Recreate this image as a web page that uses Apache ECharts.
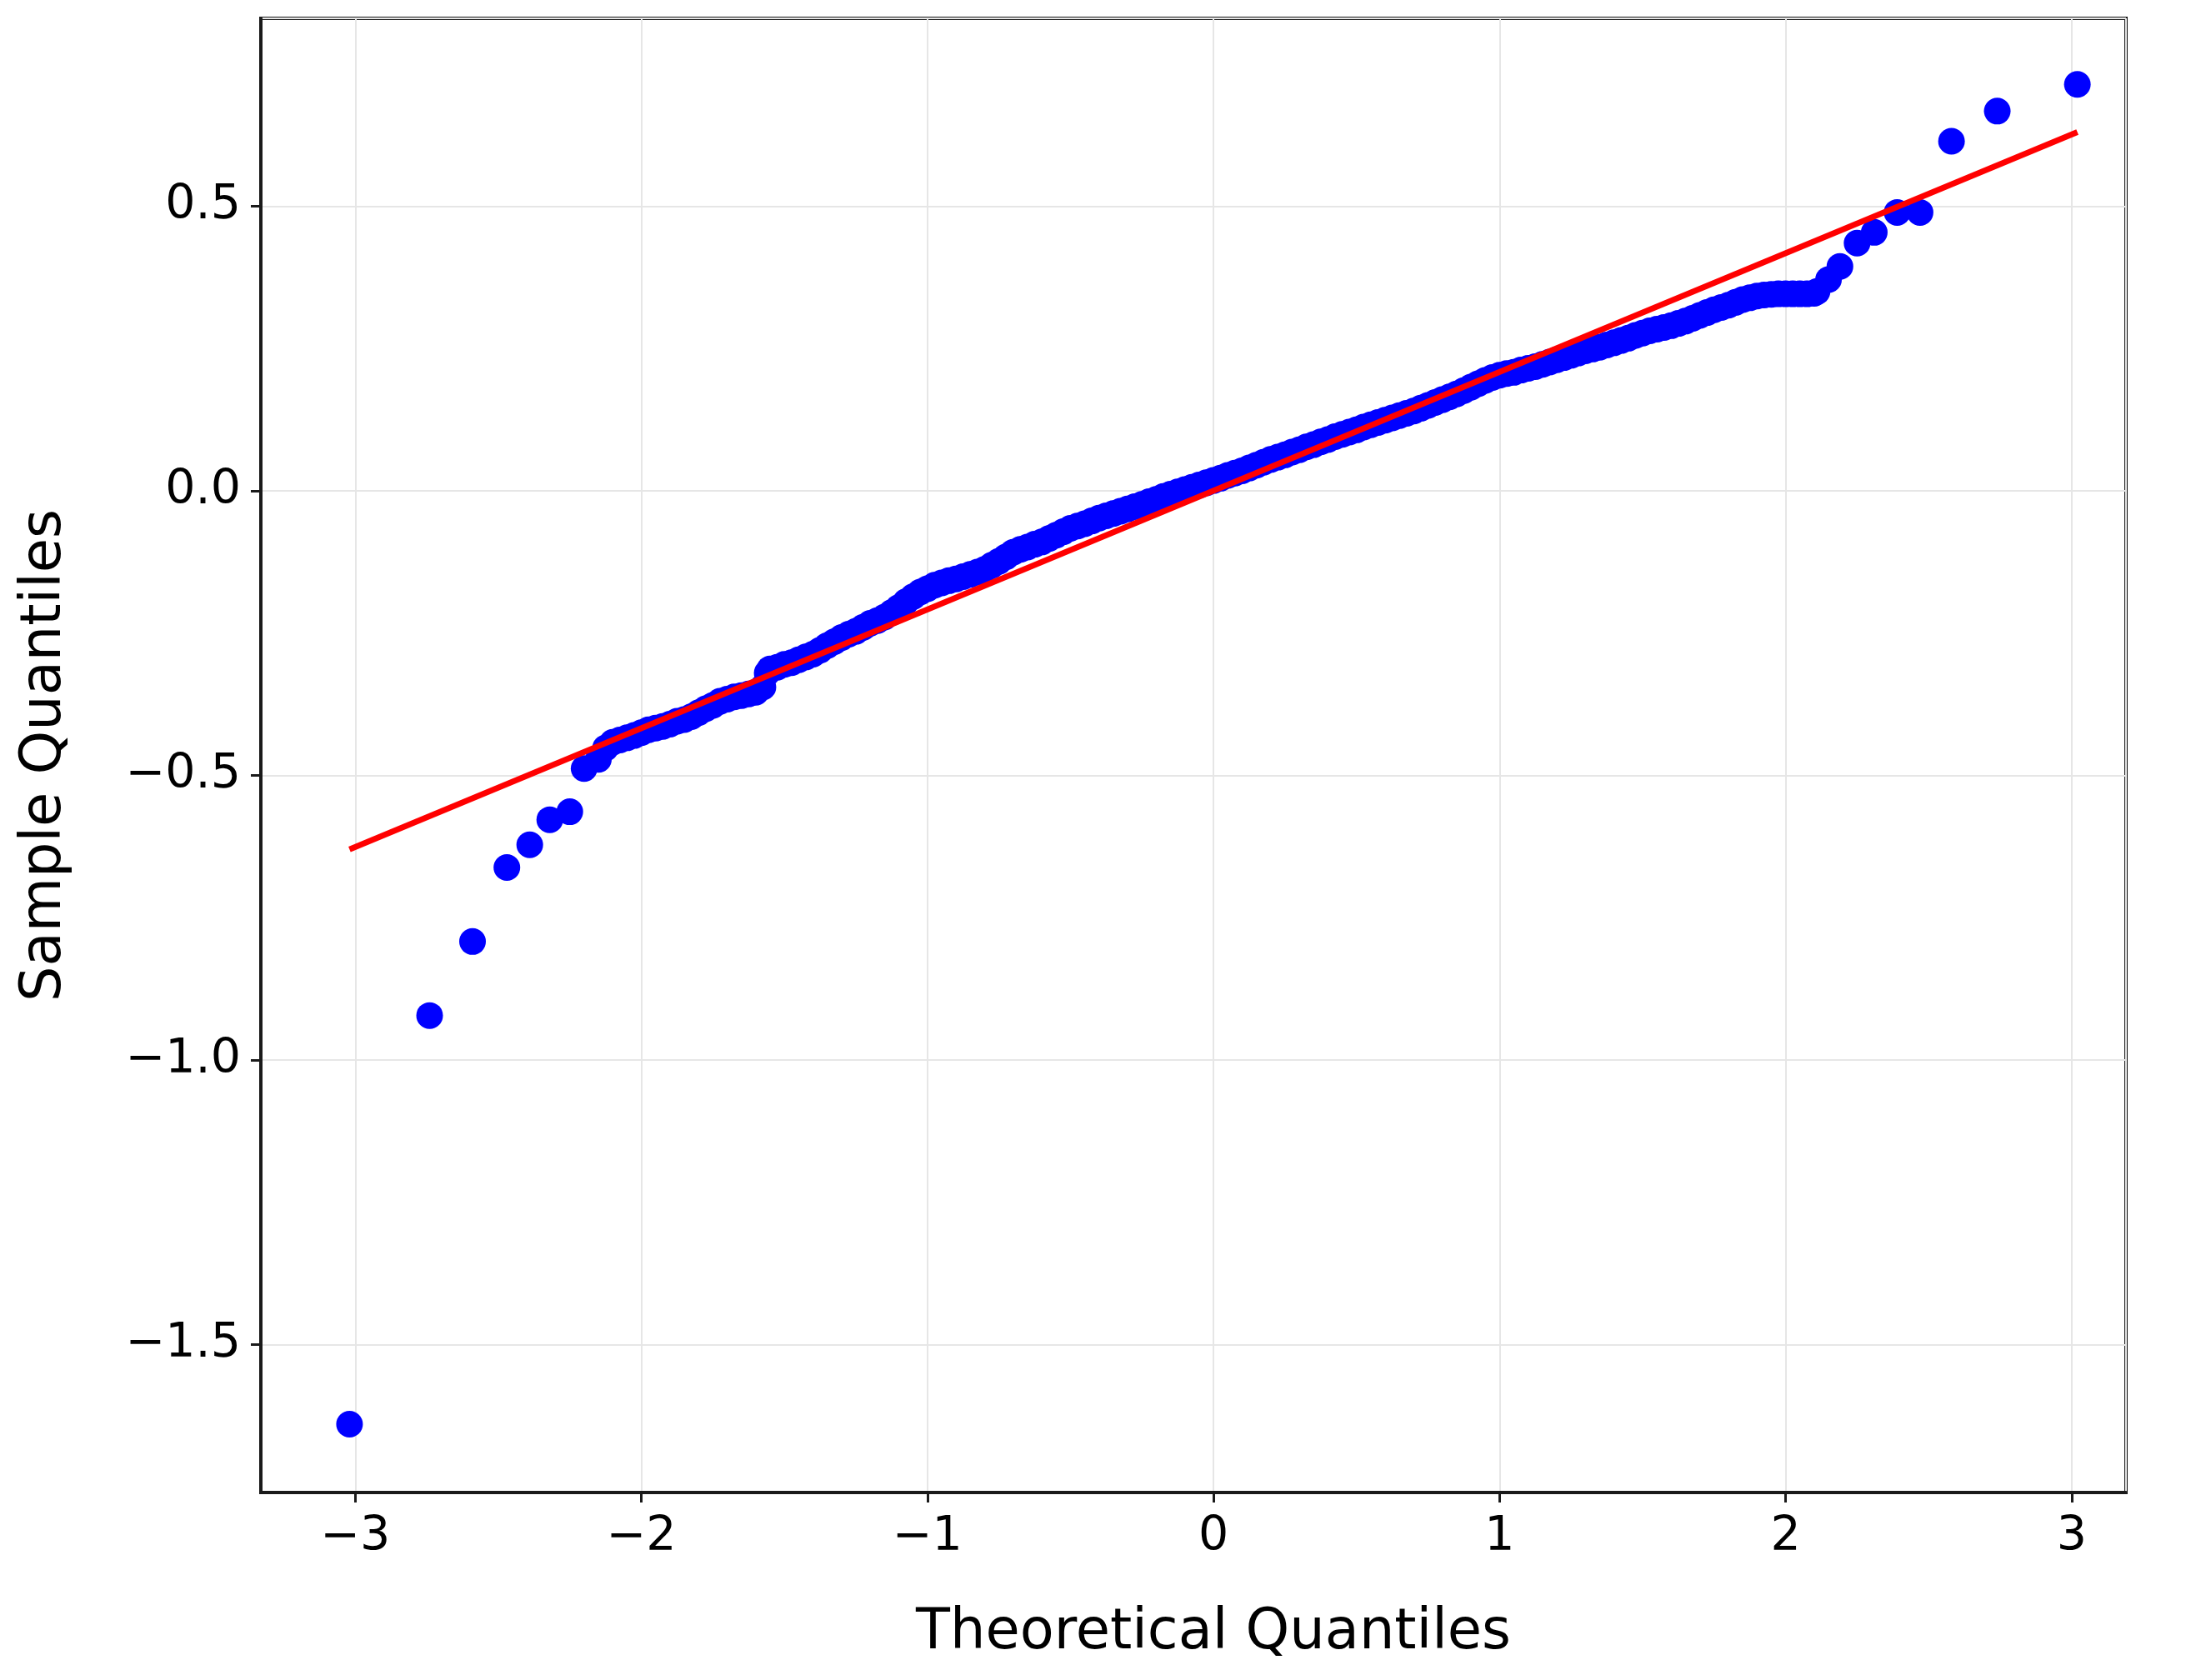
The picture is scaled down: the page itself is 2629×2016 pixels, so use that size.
<!DOCTYPE html>
<html>
<head>
<meta charset="utf-8">
<script src="https://cdn.jsdelivr.net/npm/echarts@6/dist/echarts.min.js"></script>
<style>
  html, body { margin: 0; padding: 0; background: #fff; }
  #chart { width: 2629px; height: 2016px; }
</style>
</head>
<body>
<div id="chart"></div>
<script>
// theoretical quantiles (x) and sample quantiles (y)
var theoretical = [
	// lower tail
	-3.02, -2.74, -2.59, -2.47, -2.39, -2.32, -2.25, -2.20, -2.15,
	// dense band
	-2.125, -2.100, -2.075, -2.050, -2.025, -2.000, -1.975, -1.950, -1.925, -1.900,
	-1.875, -1.850, -1.825, -1.800, -1.775, -1.750, -1.725, -1.700, -1.675, -1.650,
	-1.625, -1.600, -1.575, -1.560, -1.550, -1.525, -1.500, -1.475, -1.450, -1.425,
	-1.400, -1.375, -1.350, -1.325, -1.300, -1.275, -1.250, -1.225, -1.200, -1.175,
	-1.150, -1.125, -1.100, -1.075, -1.050, -1.025, -1.000, -0.975, -0.950, -0.925,
	-0.900, -0.875, -0.850, -0.825, -0.800, -0.775, -0.750, -0.725, -0.700, -0.675,
	-0.650, -0.625, -0.600, -0.575, -0.550, -0.525, -0.500, -0.475, -0.450, -0.425,
	-0.400, -0.375, -0.350, -0.325, -0.300, -0.275, -0.250, -0.225, -0.200, -0.175,
	-0.150, -0.125, -0.100, -0.075, -0.050, -0.025, 0.000, 0.025, 0.050, 0.075,
	0.100, 0.125, 0.150, 0.175, 0.200, 0.225, 0.250, 0.275, 0.300, 0.325,
	0.350, 0.375, 0.400, 0.425, 0.450, 0.475, 0.500, 0.525, 0.550, 0.575,
	0.600, 0.625, 0.650, 0.675, 0.700, 0.725, 0.750, 0.775, 0.800, 0.825,
	0.850, 0.875, 0.900, 0.925, 0.950, 0.975, 1.000, 1.025, 1.050, 1.075,
	1.100, 1.125, 1.150, 1.175, 1.200, 1.225, 1.250, 1.275, 1.300, 1.325,
	1.350, 1.375, 1.400, 1.425, 1.450, 1.475, 1.500, 1.525, 1.550, 1.575,
	1.600, 1.625, 1.650, 1.675, 1.700, 1.725, 1.750, 1.775, 1.800, 1.825,
	1.850, 1.875, 1.900, 1.925, 1.950, 1.975, 2.000, 2.025, 2.050, 2.075,
	2.100,
	// upper tail
	2.11, 2.15, 2.19, 2.25, 2.31, 2.39, 2.47, 2.58, 2.74, 3.02
];
var sample = [
	-1.640, -0.922, -0.792, -0.662, -0.622, -0.578, -0.564, -0.488, -0.472,
	-0.452, -0.442, -0.438, -0.434, -0.430, -0.425, -0.420, -0.417, -0.414, -0.410,
	-0.405, -0.402, -0.397, -0.390, -0.383, -0.377, -0.370, -0.366, -0.362, -0.360,
	-0.357, -0.354, -0.345, -0.320, -0.313, -0.310, -0.305, -0.302, -0.297, -0.292,
	-0.287, -0.280, -0.272, -0.265, -0.258, -0.252, -0.247, -0.240, -0.233, -0.228,
	-0.222, -0.214, -0.205, -0.195, -0.186, -0.178, -0.172, -0.166, -0.162, -0.158,
	-0.155, -0.151, -0.147, -0.143, -0.138, -0.131, -0.124, -0.116, -0.108, -0.103,
	-0.099, -0.094, -0.090, -0.084, -0.078, -0.072, -0.066, -0.062, -0.058, -0.053,
	-0.048, -0.044, -0.040, -0.036, -0.032, -0.028, -0.024, -0.019, -0.015, -0.010,
	-0.006, -0.002, 0.002, 0.006, 0.010, 0.014, 0.018, 0.022, 0.027, 0.031,
	0.035, 0.040, 0.045, 0.050, 0.055, 0.059, 0.063, 0.068, 0.072, 0.077,
	0.081, 0.086, 0.090, 0.095, 0.099, 0.103, 0.107, 0.112, 0.116, 0.120,
	0.124, 0.128, 0.132, 0.136, 0.140, 0.145, 0.150, 0.155, 0.160, 0.165,
	0.170, 0.176, 0.182, 0.188, 0.194, 0.199, 0.203, 0.206, 0.208, 0.212,
	0.215, 0.218, 0.222, 0.226, 0.230, 0.234, 0.238, 0.242, 0.246, 0.249,
	0.252, 0.256, 0.260, 0.264, 0.268, 0.273, 0.277, 0.281, 0.284, 0.287,
	0.290, 0.294, 0.298, 0.303, 0.308, 0.313, 0.318, 0.322, 0.326, 0.331,
	0.336, 0.339, 0.342, 0.344, 0.345, 0.346, 0.346, 0.346, 0.346, 0.346,
	0.347,
	0.350, 0.371, 0.394, 0.435, 0.454, 0.489, 0.489, 0.614, 0.667, 0.714
];
// reference line end points
var lineX = [-3.02, 3.02];
var lineY = [-0.63, 0.63];

var xRange = [-3.33, 3.19];
var yRange = [-1.76, 0.83];

var points = theoretical.map(function (x, i) { return [x, sample[i]]; });
var linePts = lineX.map(function (x, i) { return [x, lineY[i]]; });

function minus(v) {
	return String(v).replace('-', '\u2212');
}

var font = 'DejaVu Sans';
var ink = '#1a1a1a';

var option = {
	animation: false,
	backgroundColor: '#fff',
	grid: {
		left: 313,
		right: 78,
		top: 22,
		bottom: 225,
		show: true,
		borderColor: ink,
		borderWidth: 4,
		backgroundColor: '#fff'
	},
	xAxis: {
		type: 'value',
		min: xRange[0],
		max: xRange[1],
		splitNumber: 5,
		name: 'Theoretical Quantiles',
		nameLocation: 'middle',
		nameGap: 136,
		nameTextStyle: { fontFamily: font, fontSize: 67, color: '#000', padding: [0, 0, 0, 48] },
		axisLine: { show: true, onZero: false, lineStyle: { color: ink, width: 4 } },
		axisTick: { show: true, inside: false, length: 12, lineStyle: { color: ink, width: 3 } },
		axisLabel: {
			margin: 26,
			fontFamily: font,
			fontSize: 57,
			color: '#000',
			showMinLabel: false,
			showMaxLabel: false,
			formatter: minus
		},
		splitLine: { show: true, lineStyle: { color: '#e6e6e6', width: 2 } }
	},
	yAxis: {
		type: 'value',
		min: yRange[0],
		max: yRange[1],
		splitNumber: 5,
		name: 'Sample Quantiles',
		nameLocation: 'middle',
		nameGap: 225,
		nameTextStyle: { fontFamily: font, fontSize: 67, color: '#000' },
		axisLine: { show: true, onZero: false, lineStyle: { color: ink, width: 4 } },
		axisTick: { show: true, inside: false, length: 12, lineStyle: { color: ink, width: 3 } },
		axisLabel: {
			margin: 24,
			fontFamily: font,
			fontSize: 57,
			color: '#000',
			showMinLabel: false,
			showMaxLabel: false,
			formatter: function (v) { return minus(v.toFixed(1)); }
		},
		splitLine: { show: true, lineStyle: { color: '#e6e6e6', width: 2 } }
	},
	series: [{
		type: 'scatter',
		data: points,
		symbol: 'circle',
		symbolSize: 32,
		itemStyle: { color: '#0000ff', opacity: 1 },
		z: 2
	}, {
		type: 'line',
		data: linePts,
		showSymbol: false,
		symbol: 'none',
		lineStyle: { color: '#ff0000', width: 7 },
		z: 3
	}]
};

var myChart = echarts.init(document.getElementById('chart'));
myChart.setOption(option);
</script>
</body>
</html>
